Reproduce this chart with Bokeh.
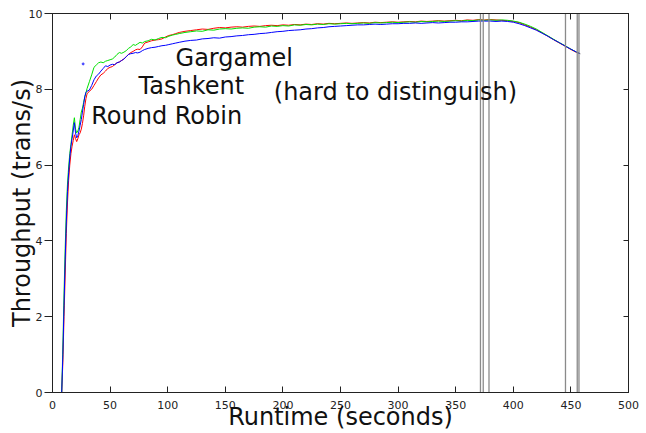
import math
from bokeh.plotting import figure
from bokeh.models import Range1d, LinearAxis, FixedTicker, Label
from bokeh.embed import file_html
from bokeh.resources import INLINE

# ---- data ----
runtime = [8, 9, 10, 11, 12, 13, 14, 15, 16, 17, 18, 19, 20, 21, 22, 23, 24, 25, 26, 27, 28, 29, 30,
           32, 34, 36, 38, 40, 42, 44, 46, 48, 50, 52, 54, 56, 58, 60, 62, 64, 66, 68, 70, 72, 74, 76, 78, 80,
           83, 86, 89, 92, 95, 98, 101, 104, 107,
           110, 115, 120, 125, 130, 135, 140, 145, 150, 155,
           160, 165, 170, 175, 180, 185, 190, 195, 200, 205,
           210, 215, 220, 225, 230, 235, 240, 245, 250, 255,
           260, 265, 270, 275, 280, 285, 290, 295, 300, 305,
           310, 315, 320, 325, 330, 335, 340, 345, 350, 355,
           360, 365, 370, 375, 380, 385, 390, 395, 400, 405,
           410, 415, 420, 425, 430, 435, 440, 445, 450, 455, 458]

gargamel = [0, 1.2, 2.6, 3.8, 4.8, 5.5, 5.95, 6.3, 6.55, 6.8, 7.05, 7.25, 6.95, 6.85, 6.9, 7.0, 7.2, 7.4, 7.5, 7.65, 7.8, 7.9, 8.02,
            8.2, 8.38, 8.58, 8.64, 8.7, 8.72, 8.7, 8.74, 8.76, 8.78, 8.8, 8.85, 8.92, 8.97, 8.95, 8.98, 9.02, 9.08, 9.12, 9.18, 9.16, 9.2, 9.24, 9.22, 9.26,
            9.28, 9.32, 9.3, 9.34, 9.37, 9.36, 9.4, 9.43, 9.45,
            9.47, 9.5, 9.52, 9.54, 9.53, 9.57, 9.56, 9.59, 9.6, 9.59,
            9.61, 9.62, 9.61, 9.64, 9.65, 9.64, 9.67, 9.66, 9.68, 9.67,
            9.7, 9.69, 9.71, 9.7, 9.72, 9.71, 9.73, 9.72, 9.73, 9.74,
            9.73, 9.74, 9.75, 9.74, 9.76, 9.75, 9.76, 9.77, 9.76, 9.77,
            9.78, 9.77, 9.79, 9.78, 9.79, 9.8, 9.79, 9.8, 9.81, 9.8,
            9.82, 9.81, 9.83, 9.82, 9.83, 9.82, 9.83, 9.82, 9.8, 9.77,
            9.72, 9.66, 9.59, 9.5, 9.41, 9.32, 9.23, 9.15, 9.06, 8.98, 8.94]

tashkent = [0, 0.8, 2.0, 3.1, 4.2, 5.0, 5.6, 6.0, 6.3, 6.5, 6.65, 6.8, 6.7, 6.62, 6.7, 6.8, 6.85, 6.95, 7.1, 7.3, 7.55, 7.75, 7.88,
            7.95, 8.0, 8.1, 8.2, 8.3, 8.38, 8.42, 8.48, 8.55, 8.58, 8.6, 8.65, 8.7, 8.72, 8.76, 8.8, 8.86, 8.92, 8.97, 9.0, 9.04, 9.06, 9.05, 9.12, 9.22,
            9.25, 9.28, 9.3, 9.31, 9.33, 9.38, 9.42, 9.44, 9.47,
            9.5, 9.53, 9.55, 9.57, 9.59, 9.58, 9.61, 9.63, 9.62, 9.64,
            9.65, 9.64, 9.66, 9.67, 9.66, 9.68, 9.69, 9.68, 9.7, 9.69,
            9.71, 9.7, 9.72, 9.71, 9.73, 9.72, 9.74, 9.73, 9.74, 9.75,
            9.74, 9.75, 9.76, 9.75, 9.77, 9.76, 9.77, 9.78, 9.77, 9.78,
            9.79, 9.78, 9.8, 9.79, 9.8, 9.81, 9.8, 9.81, 9.82, 9.81,
            9.83, 9.82, 9.84, 9.83, 9.84, 9.83, 9.82, 9.81, 9.79, 9.76,
            9.7, 9.64, 9.57, 9.49, 9.4, 9.31, 9.22, 9.14, 9.05, 8.97, 8.94]

round_robin = [0, 1.0, 2.3, 3.5, 4.5, 5.3, 5.8, 6.2, 6.5, 6.7, 6.9, 7.12, 6.85, 6.72, 6.78, 6.9, 7.05, 7.2, 7.4, 7.6, 7.8, 7.92, 7.95,
               7.98, 8.1, 8.25, 8.35, 8.4, 8.48, 8.55, 8.62, 8.6, 8.64, 8.66, 8.65, 8.7, 8.72, 8.76, 8.8, 8.86, 8.92, 8.94, 8.95, 8.97, 8.96, 8.98, 9.02, 9.05,
               9.08, 9.1, 9.11, 9.13, 9.15, 9.16, 9.18, 9.2, 9.22,
               9.24, 9.27, 9.29, 9.3, 9.33, 9.34, 9.36, 9.35, 9.38, 9.39,
               9.41, 9.42, 9.44, 9.45, 9.47, 9.48, 9.5, 9.52, 9.53, 9.55,
               9.56, 9.57, 9.59, 9.6, 9.62, 9.63, 9.65, 9.66, 9.67, 9.68,
               9.69, 9.7, 9.7, 9.71, 9.72, 9.71, 9.72, 9.73, 9.73, 9.74,
               9.74, 9.75, 9.74, 9.75, 9.76, 9.75, 9.76, 9.77, 9.77, 9.78,
               9.78, 9.79, 9.8, 9.8, 9.8, 9.79, 9.8, 9.79, 9.77, 9.73,
               9.68, 9.62, 9.56, 9.48, 9.4, 9.31, 9.23, 9.14, 9.06, 8.98, 8.94]

stray_x = [26.6]
stray_y = [8.67]

event_times = [371.5, 373.9, 378.9, 445.3, 455.5, 457.0]

x_ticks = [0, 50, 100, 150, 200, 250, 300, 350, 400, 450, 500]
y_ticks = [0, 2, 4, 6, 8, 10]

annotation_texts = ["Gargamel", "Tashkent", "Round Robin", "(hard to distinguish)"]
annotation_x = [106.8, 74.7, 33.6, 192.1]
annotation_y = [8.82, 8.09, 7.30, 7.93]

FONT = "DejaVu Sans"

p = figure(width=646, height=433, output_backend="svg", toolbar_location=None,
           x_range=Range1d(0, 500), y_range=Range1d(0, 10),
           min_border_left=52, min_border_right=18, min_border_top=13, min_border_bottom=41,
           x_axis_type=None, y_axis_type=None)
p.grid.visible = False
p.background_fill_color = "white"
p.border_fill_color = "white"
p.outline_line_color = "#222222"
p.outline_line_width = 1

def style_axis(ax, tin, tout, labels=True):
    ax.axis_line_color = "#222222"
    ax.axis_line_width = 1
    ax.major_tick_line_color = "#222222"
    ax.major_tick_in = tin
    ax.major_tick_out = tout
    ax.minor_tick_line_color = None
    if labels:
        ax.major_label_text_font = FONT
        ax.major_label_text_font_size = "11px"
        ax.major_label_text_color = "#222222"
        ax.axis_label_text_font = FONT
        ax.axis_label_text_font_size = "24px"
        ax.axis_label_text_font_style = "normal"
        ax.axis_label_text_color = "#111111"
    else:
        ax.major_label_text_font_size = "1px"
        ax.major_label_text_alpha = 0
        ax.major_label_standoff = 0

xb = LinearAxis(ticker=FixedTicker(ticks=x_ticks), axis_label="Runtime (seconds)")
style_axis(xb, 6, 0)
xb.major_label_standoff = 8
xb.axis_label_standoff = -9
p.add_layout(xb, "below")

yl = LinearAxis(ticker=FixedTicker(ticks=y_ticks), axis_label="Throughput (trans/s)")
style_axis(yl, 0, 8)
yl.major_label_standoff = 2
yl.axis_label_standoff = -10
p.add_layout(yl, "left")

xt = LinearAxis(ticker=FixedTicker(ticks=x_ticks))
style_axis(xt, 6, 0, labels=False)
p.add_layout(xt, "above")

yr = LinearAxis(ticker=FixedTicker(ticks=y_ticks))
style_axis(yr, 5, 0, labels=False)
p.add_layout(yr, "right")

p.line(runtime, tashkent, line_color="#ff0000", line_width=1)
p.line(runtime, gargamel, line_color="#00e000", line_width=1)
p.line(runtime, round_robin, line_color="#0000ff", line_width=1)
p.scatter(stray_x, stray_y, size=2, color="#4444ff")

p.segment(x0=event_times, y0=[0] * len(event_times), x1=event_times, y1=[10] * len(event_times),
          line_color="#8a8a8a", line_width=1.3)

for txt, x, y in zip(annotation_texts, annotation_x, annotation_y):
    p.add_layout(Label(x=x, y=y, text=txt, text_font=FONT, text_font_size="24px",
                       text_color="#111111", text_align="left", text_baseline="middle"))

open("out.html", "w").write(file_html(p, INLINE))
